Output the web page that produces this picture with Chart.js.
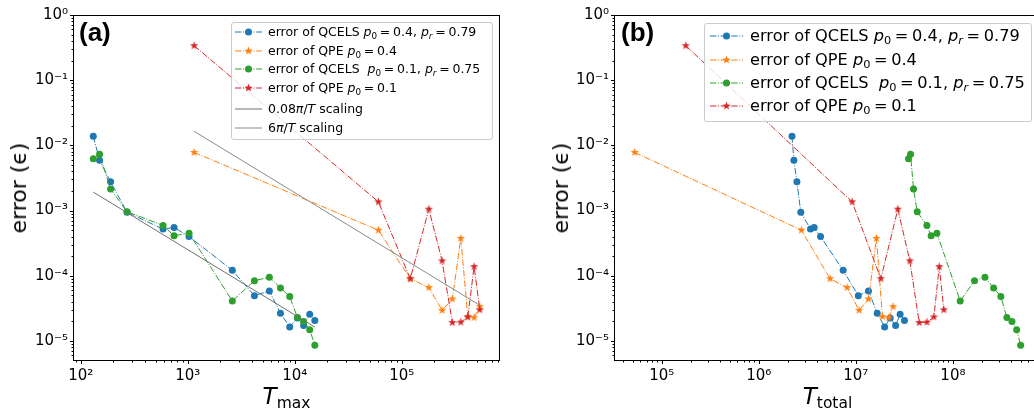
<!DOCTYPE html>
<html>
<head>
<meta charset="utf-8">
<script src="https://cdn.jsdelivr.net/npm/chart.js@4.4.1/dist/chart.umd.min.js"></script>
<style>
  html, body { margin: 0; padding: 0; background: #fff; }
  #wrap { position: relative; width: 1034px; height: 413px; overflow: hidden; font-family: 'DejaVu Sans', sans-serif; color: #000; }
  canvas { position: absolute; top: 0; }
  .txt { position: absolute; white-space: nowrap; }
  .legend { position: absolute; background: rgba(255,255,255,0.8); border: 1px solid #ccc; border-radius: 3px; box-sizing: border-box; }
  .row { position: absolute; white-space: nowrap; height: 18px; line-height: 18px; }
  .row b { font-weight: normal; margin: 0 0.22em; }
  sub { font-size: 70%; vertical-align: -0.3em; line-height: 0; }
  .panel { font-family: 'Liberation Sans', Arial, sans-serif; font-weight: bold; font-size: 26px; line-height: 26px; }
  .ylab { font-size: 22px; line-height: 22px; transform: translate(-50%, -50%) rotate(-90deg); }
  .xlab { font-size: 23px; line-height: 23px; transform: translateX(-50%); }
  .xlab span { font-size: 15.5px; position: relative; top: 4px; }
</style>
</head>
<body>
<div id="wrap">
  <canvas id="chartA" width="517" height="413" style="left:0px"></canvas>
  <canvas id="chartB" width="530" height="413" style="left:517px"></canvas>
</div>
<script>
// T_max values (panel a), shared by both QCELS runs
const tmaxQcels = [131, 150, 190, 271, 588, 745, 1028, 2610, 4200, 5790, 7350, 8970, 10600, 12100, 13800, 15400];
// T_max values (panel a), shared by both QPE runs
const tmaxQpe = [1146, 60500, 1.2e5, 1.79e5, 2.38e5, 2.97e5, 3.56e5, 4.14e5, 4.74e5, 5.36e5];

// T_total values (panel b)
const ttotQcels04 = [2.2e6, 2.3e6, 2.47e6, 2.71e6, 3.41e6, 3.72e6, 4.33e6, 7.4e6, 1.06e7, 1.35e7, 1.66e7, 1.98e7, 2.26e7, 2.57e7, 2.86e7, 3.17e7];
const ttotQcels01 = [3.49e7, 3.66e7, 3.93e7, 4.29e7, 5.4e7, 5.97e7, 6.84e7, 1.19e8, 1.67e8, 2.14e8, 2.63e8, 3.12e8, 3.6e8, 4.06e8, 4.54e8, 4.99e8];
const ttotQpe04 = [5.27e4, 2.75e6, 5.43e6, 8.13e6, 1.08e7, 1.35e7, 1.63e7, 1.88e7, 2.19e7, 2.42e7];
const ttotQpe01 = [1.77e5, 9.16e6, 1.81e7, 2.71e7, 3.6e7, 4.5e7, 5.4e7, 6.37e7, 7.23e7, 8.07e7];

// errors (same in both panels)
const errQcels04 = [0.0138, 0.0059, 0.00277, 9.4e-4, 5.2e-4, 5.5e-4, 4.0e-4, 1.21e-4, 4.95e-5, 5.85e-5, 2.66e-5, 1.64e-5, 2.25e-5, 1.73e-5, 2.57e-5, 2.05e-5];
const errQcels01 = [6.25e-3, 7.3e-3, 2.14e-3, 9.6e-4, 5.9e-4, 4.1e-4, 4.5e-4, 4.1e-5, 8.4e-5, 9.5e-5, 6.5e-5, 4.8e-5, 2.28e-5, 1.98e-5, 1.49e-5, 8.6e-6];
const errQpe04 = [7.8e-3, 5.0e-4, 9.0e-5, 6.6e-5, 2.95e-5, 4.4e-5, 3.75e-4, 2.36e-5, 2.28e-5, 3.36e-5];
const errQpe01 = [0.338, 1.36e-3, 9.0e-5, 1.05e-3, 1.69e-4, 1.91e-5, 1.94e-5, 2.33e-5, 1.38e-4, 3.0e-5];

// reference scaling lines (end points)
const scaleSmallT = [131, 15400];
const scaleSmallErr = [1.92e-3, 1.63e-5];
const scaleBigT = [1146, 5.36e5];
const scaleBigErr = [1.645e-2, 3.52e-5];

const BLUE = '#1f77b4', ORANGE = '#ff7f0e', GREEN = '#2ca02c', RED = '#d62728';
const DASHDOT = [6.4, 1.6, 1, 1.6];

const sup = {'-': '⁻', '0': '⁰', '1': '¹', '2': '²', '3': '³', '4': '⁴', '5': '⁵', '6': '⁶', '7': '⁷', '8': '⁸', '9': '⁹'};
const isPow = v => Math.abs(Math.log10(v) - Math.round(Math.log10(v))) < 1e-6;
const powLabel = v => isPow(v) ? '10' + String(Math.round(Math.log10(v))).split('').map(c => sup[c]).join('') : '';

function logTicks(min, max) {
    const out = [];
    for (let e = Math.floor(Math.log10(min)); e <= Math.ceil(Math.log10(max)); e++) {
        for (let m = 1; m < 10; m++) {
            const v = m * Math.pow(10, e);
            if (v >= min * 0.9999 && v <= max * 1.0001) out.push(v);
        }
    }
    return out;
}

const pts = (xs, ys) => xs.map((x, i) => ({x, y: ys[i]}));

function starPoints(cx, cy, r) {
    const p = [];
    for (let i = 0; i < 10; i++) {
        const rad = i % 2 ? r * 0.4 : r;
        const a = -Math.PI / 2 + i * Math.PI / 5;
        p.push([cx + rad * Math.cos(a), cy + rad * Math.sin(a)]);
    }
    return p;
}

function makeStar(color, r) {
    const c = document.createElement('canvas');
    const s = Math.ceil(r * 2) + 2;
    c.width = c.height = s;
    const g = c.getContext('2d');
    g.fillStyle = color;
    g.beginPath();
    starPoints(s / 2, s / 2, r).forEach(([x, y]) => g.lineTo(x, y));
    g.closePath();
    g.fill();
    return c;
}
const starOrange = makeStar(ORANGE, 4.4);
const starRed = makeStar(RED, 4.4);

function series(data, color, marker) {
    return {
        data,
        borderColor: color,
        borderWidth: 1,
        borderDash: DASHDOT,
        pointStyle: marker === 'star' ? (color === RED ? starRed : starOrange) : 'circle',
        pointRadius: marker === 'star' ? 4 : 3.5,
        pointBackgroundColor: color,
        pointBorderWidth: 0,
        tension: 0
    };
}

function guide(data, color) {
    return { data, borderColor: color, borderWidth: 1, pointRadius: 0, tension: 0 };
}

// spines + major/minor tick marks
const frame = {
    id: 'frame',
    afterDraw(chart) {
        const {ctx, chartArea: a, scales: {x, y}} = chart;
        ctx.save();
        ctx.strokeStyle = '#000';
        ctx.lineWidth = 1;
        ctx.beginPath();
        x.ticks.forEach(t => {
            const p = Math.round(x.getPixelForValue(t.value)) + 0.5;
            ctx.moveTo(p, a.bottom);
            ctx.lineTo(p, a.bottom + (isPow(t.value) ? 4 : 2.5));
        });
        y.ticks.forEach(t => {
            const p = Math.round(y.getPixelForValue(t.value)) + 0.5;
            ctx.moveTo(a.left, p);
            ctx.lineTo(a.left - (isPow(t.value) ? 4 : 2.5), p);
        });
        ctx.stroke();
        ctx.strokeRect(Math.round(a.left) - 0.5, Math.round(a.top) + 0.5, Math.round(a.right - a.left) + 1, Math.round(a.bottom - a.top));
        ctx.restore();
    }
};

function makeChart(id, xMin, xMax, yWidth, padRight, datasets) {
    const yMin = 5.1e-6, yMax = 1;
    datasets.forEach((d, i) => { d.order = datasets.length - i; });
    return new Chart(document.getElementById(id), {
        type: 'line',
        data: { datasets },
        options: {
            responsive: false,
            animation: false,
            layout: { padding: { left: 0, top: 15, right: padRight, bottom: 0 } },
            plugins: { legend: { display: false }, tooltip: { enabled: false } },
            scales: {
                x: {
                    type: 'logarithmic', min: xMin, max: xMax,
                    grid: { display: false, drawTicks: false }, border: { display: false },
                    afterBuildTicks: s => { s.ticks = logTicks(xMin, xMax).map(v => ({value: v})); },
                    afterFit: s => { s.height = 53; },
                    ticks: { autoSkip: false, maxRotation: 0, minRotation: 0, padding: 7, color: '#000',
                             font: { family: 'DejaVu Sans', size: 15 }, callback: v => powLabel(v) }
                },
                y: {
                    type: 'logarithmic', min: yMin, max: yMax,
                    grid: { display: false, drawTicks: false }, border: { display: false },
                    afterBuildTicks: s => { s.ticks = logTicks(yMin, yMax).map(v => ({value: v})); },
                    afterFit: s => { s.width = yWidth; },
                    ticks: { autoSkip: false, padding: 6, color: '#000',
                             font: { family: 'DejaVu Sans', size: 15 }, callback: v => powLabel(v) }
                }
            }
        },
        plugins: [frame]
    });
}

makeChart('chartA', 86.5, 8.1e5, 74, 18, [
    series(pts(tmaxQcels, errQcels04), BLUE, 'circle'),
    series(pts(tmaxQpe, errQpe04), ORANGE, 'star'),
    series(pts(tmaxQcels, errQcels01), GREEN, 'circle'),
    series(pts(tmaxQpe, errQpe01), RED, 'star'),
    guide(pts(scaleSmallT, scaleSmallErr), '#707070'),
    guide(pts(scaleBigT, scaleBigErr), '#8a8a8a')
]);

makeChart('chartB', 3.3e4, 7.9e8, 98, 7, [
    series(pts(ttotQcels04, errQcels04), BLUE, 'circle'),
    series(pts(ttotQpe04, errQpe04), ORANGE, 'star'),
    series(pts(ttotQcels01, errQcels01), GREEN, 'circle'),
    series(pts(ttotQpe01, errQpe01), RED, 'star')
]);

// ---- text overlays: panel tags, axis titles, legends ----
const wrap = document.getElementById('wrap');
function add(html, cls, style) {
    const d = document.createElement('div');
    d.className = cls;
    d.style.cssText = style;
    d.innerHTML = html;
    wrap.appendChild(d);
    return d;
}

add('(a)', 'txt panel', 'left:79px;top:19px');
add('(b)', 'txt panel', 'left:621px;top:19px');
add('error (ϵ)', 'txt ylab', 'left:19px;top:188px');
add('error (ϵ)', 'txt ylab', 'left:561px;top:188px');
add('<i>T</i><span>max</span>', 'txt xlab', 'left:286.5px;top:385px');
add('<i>T</i><span>total</span>', 'txt xlab', 'left:827.5px;top:385px');

function handleSvg(color, marker, w, dashed) {
    const cy = 6;
    let m = '';
    if (marker === 'circle') m = `<circle cx="${w / 2}" cy="${cy}" r="3.5" fill="${color}"/>`;
    if (marker === 'star') m = `<polygon points="${starPoints(w / 2, cy, 4.4).map(p => p.join(',')).join(' ')}" fill="${color}"/>`;
    const dash = dashed ? `stroke-dasharray="${DASHDOT.join(' ')}"` : '';
    return `<svg width="${w}" height="12" style="position:absolute;left:0;top:0"><line x1="0" y1="${cy}" x2="${w}" y2="${cy}" stroke="${color}" stroke-width="1" ${dash}/>${m}</svg>`;
}

const p0 = v => `<i>p</i><sub>0</sub><b>=</b>${v}`;
const pr = v => `<i>p</i><sub><i>r</i></sub><b>=</b>${v}`;
const legendItems = [
    [BLUE, 'circle', true, `error of QCELS ${p0('0.4')}, ${pr('0.79')}`],
    [ORANGE, 'star', true, `error of QPE ${p0('0.4')}`],
    [GREEN, 'circle', true, `error of QCELS&nbsp; ${p0('0.1')}, ${pr('0.75')}`],
    [RED, 'star', true, `error of QPE ${p0('0.1')}`],
    ['#707070', null, false, '0.08<i>π</i>/<i>T</i> scaling'],
    ['#8a8a8a', null, false, '6<i>π</i>/<i>T</i> scaling']
];

function legend(box, rows, hx, hw, tx, fs) {
    add('', 'legend', `left:${box[0]}px;top:${box[1]}px;width:${box[2]}px;height:${box[3]}px`);
    rows.forEach((cy, i) => {
        const [c, m, dsh, html] = legendItems[i];
        add(handleSvg(c, m, hw, dsh), 'txt', `left:${hx}px;top:${cy - 6}px;width:${hw}px;height:12px`);
        add(html, 'row', `left:${tx}px;top:${cy - 9}px;font-size:${fs}px`);
    });
}

legend([231, 22, 262, 118], [32, 51, 69, 87.5, 108.5, 127.5], 235, 27, 268, 12.5);
legend([704, 23, 328, 99], [36, 59.5, 82.5, 106], 710, 33, 750, 16.2);
</script>
</body>
</html>
